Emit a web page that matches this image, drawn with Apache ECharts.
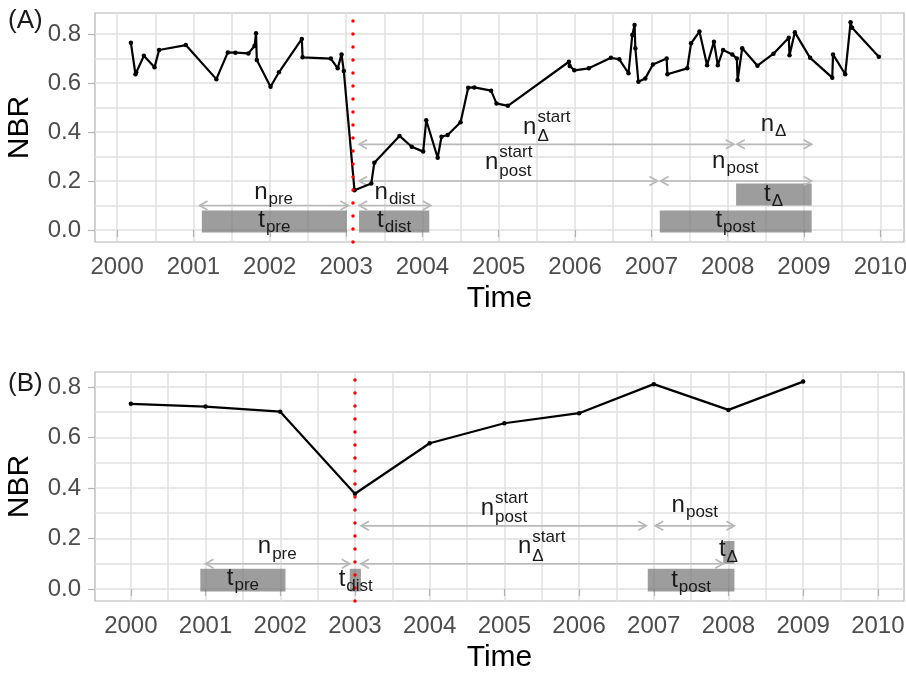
<!DOCTYPE html>
<html><head><meta charset="utf-8">
<script src="https://cdn.jsdelivr.net/npm/echarts@6/dist/echarts.min.js"></script>
<style>html,body{margin:0;padding:0;background:#fff}#c{width:906px;height:676px}</style>
</head><body><div id="c"></div>
<script>
const FONT = '"Liberation Sans", Arial, sans-serif';
const yearTicks = [2000,2001,2002,2003,2004,2005,2006,2007,2008,2009,2010];
const halfYearTicks = [2000.5,2001.5,2002.5,2003.5,2004.5,2005.5,2006.5,2007.5,2008.5,2009.5];
const nbrTicks = [0,0.2,0.4,0.6,0.8];
const nbrMinorTicks = [0.1,0.3,0.5,0.7];

// Panel A: dense time series
const timeA = [2000.18,2000.24,2000.25,2000.35,2000.49,2000.55,2000.90,2001.30,2001.45,2001.55,2001.72,2001.80,2001.82,2001.83,2002.01,2002.12,2002.42,2002.43,2002.80,2002.89,2002.94,2002.97,2003.11,2003.33,2003.37,2003.70,2003.86,2004.01,2004.05,2004.20,2004.25,2004.33,2004.50,2004.60,2004.68,2004.90,2004.97,2005.12,2005.92,2005.93,2005.99,2006.18,2006.47,2006.58,2006.70,2006.75,2006.78,2006.79,2006.83,2006.92,2007.02,2007.20,2007.21,2007.47,2007.52,2007.63,2007.73,2007.82,2007.87,2007.94,2008.06,2008.12,2008.13,2008.19,2008.39,2008.60,2008.80,2008.81,2008.88,2009.08,2009.37,2009.38,2009.54,2009.61,2009.63,2009.98];
const nbrA = [0.765,0.636,0.644,0.711,0.664,0.735,0.755,0.616,0.725,0.724,0.721,0.751,0.803,0.694,0.585,0.644,0.780,0.705,0.700,0.660,0.717,0.649,0.162,0.190,0.275,0.384,0.340,0.320,0.448,0.295,0.381,0.388,0.440,0.581,0.582,0.569,0.517,0.507,0.687,0.670,0.652,0.660,0.703,0.697,0.640,0.796,0.837,0.742,0.605,0.619,0.676,0.700,0.636,0.660,0.762,0.810,0.673,0.769,0.673,0.735,0.717,0.700,0.612,0.742,0.671,0.720,0.785,0.714,0.807,0.703,0.622,0.717,0.636,0.848,0.826,0.707];
// Panel B: annual series
const timeB = [2000,2001,2002,2003,2004,2005,2006,2007,2008,2009];
const nbrB = [0.733,0.722,0.702,0.377,0.577,0.656,0.696,0.811,0.709,0.821];

const disturbA = 2003.09;
const disturbB = 2003.0;

// segments: [xStart, xEnd, yLow, yHigh]
const barsA = [[2001.11,2003.01,-0.01,0.08],[2003.17,2004.09,-0.01,0.08],[2007.11,2009.1,-0.01,0.08],[2008.11,2009.1,0.10,0.19]];
const barsB = [[2000.93,2002.07,-0.01,0.08],[2002.93,2003.08,-0.01,0.08],[2006.92,2008.08,-0.01,0.08],[2007.93,2008.08,0.10,0.19]];
// arrows: [xStart, xEnd, y]
const arrowsA = [[2001.08,2003.03,0.1],[2003.17,2004.11,0.1],[2003.17,2008.08,0.35],[2008.12,2009.1,0.35],[2003.17,2007.08,0.2],[2007.12,2009.1,0.2]];
const arrowsB = [[2001.0,2002.93,0.1],[2003.08,2007.93,0.1],[2003.08,2006.9,0.25],[2007.02,2008.08,0.25]];
// labels: [x, y, main, subscript, superscript]
const labelsA = [
  [2002.06,0.04,'t','pre',''],[2003.63,0.04,'t','dist',''],[2008.1,0.04,'t','post',''],[2008.6,0.145,'t','\u0394',''],
  [2002.05,0.155,'n','pre',''],[2003.64,0.155,'n','dist',''],[2005.63,0.42,'n','\u0394','start'],[2008.6,0.43,'n','\u0394',''],
  [2005.13,0.275,'n','post','start'],[2008.1,0.28,'n','post','']
];
const labelsB = [
  [2001.5,0.044,'t','pre',''],[2003.01,0.04,'t','dist',''],[2007.5,0.036,'t','post',''],[2008.0,0.155,'t','\u0394',''],
  [2001.96,0.167,'n','pre',''],[2005.0,0.32,'n','post','start'],[2007.55,0.333,'n','post',''],[2005.5,0.167,'n','\u0394','start']
];

const mctx = document.createElement('canvas').getContext('2d');
function tw(s, size){ mctx.font = size + 'px "Liberation Sans"'; return mctx.measureText(s).width; }

function barItem(bars){ return function(params, api){
  const b = bars[params.dataIndex];
  const p0 = api.coord([b[0], b[3]]), p1 = api.coord([b[1], b[2]]);
  return {type:'rect', shape:{x:p0[0], y:p0[1], width:p1[0]-p0[0], height:p1[1]-p0[1]}, style:{fill:'rgba(110,110,110,0.68)'}};
};}
function arrowItem(arrows){ return function(params, api){
  const a = arrows[params.dataIndex];
  const p0 = api.coord([a[0], a[2]]), p1 = api.coord([a[1], a[2]]);
  const L = 8, W = 4.5;
  const st = {stroke:'#b8b8b8', lineWidth:1.7, fill:null};
  return {type:'group', children:[
    {type:'line', shape:{x1:p0[0],y1:p0[1],x2:p1[0],y2:p1[1]}, style:st},
    {type:'polyline', shape:{points:[[p0[0]+L,p0[1]-W],[p0[0],p0[1]],[p0[0]+L,p0[1]+W]]}, style:st},
    {type:'polyline', shape:{points:[[p1[0]-L,p1[1]-W],[p1[0],p1[1]],[p1[0]-L,p1[1]+W]]}, style:st}
  ]};
};}
function labelItem(labels){ return function(params, api){
  const l = labels[params.dataIndex];
  const c = api.coord([l[0], l[1]]);
  const M = 24, S = 17;
  const wm = tw(l[2], M), ws = l[3] ? tw(l[3], S) : 0, wp = l[4] ? tw(l[4], S) : 0;
  const total = wm + 1 + Math.max(ws, wp);
  const x0 = c[0] - total / 2;
  const ts = (txt, size) => ({text:txt, fontSize:size, fontFamily:FONT, fill:'#1a1a1a', align:'left', verticalAlign:'middle'});
  const children = [{type:'text', x:x0, y:c[1], style:ts(l[2], M)}];
  if (l[3]) children.push({type:'text', x:x0+wm+1, y:c[1] + (l[4] ? 9 : 7), style:ts(l[3], S)});
  if (l[4]) children.push({type:'text', x:x0+wm+1, y:c[1] - 10, style:ts(l[4], S)});
  return {type:'group', children};
};}

const gridStyle = {color:'#e0e0e0', width:1.5};
function xMajor(g, min, max, nameGap){ return {type:'value', gridIndex:g, min, max, position:'bottom',
  name:'Time', nameLocation:'middle', nameGap, nameTextStyle:{fontSize:30, color:'#000', fontFamily:FONT},
  axisLine:{show:false}, axisTick:{show:true, length:7, customValues:yearTicks, lineStyle:{color:'#b3b3b3', width:1.2}},
  axisLabel:{customValues:yearTicks, formatter:v=>String(Math.round(v)), fontSize:24, color:'#4d4d4d', fontFamily:FONT, margin:13},
  splitLine:{show:true, lineStyle:gridStyle}}; }
function xMinor(g, min, max){ return {type:'value', gridIndex:g, min, max, position:'bottom',
  axisLine:{show:false}, axisTick:{show:false, customValues:halfYearTicks}, axisLabel:{show:false},
  splitLine:{show:true, lineStyle:gridStyle}}; }
function yMajor(g, min, max){ return {type:'value', gridIndex:g, min, max,
  name:'NBR', nameLocation:'middle', nameGap:60, nameTextStyle:{fontSize:30, color:'#000', fontFamily:FONT},
  axisLine:{show:false}, axisTick:{show:true, length:7, customValues:nbrTicks, lineStyle:{color:'#b3b3b3', width:1.2}},
  axisLabel:{customValues:nbrTicks, formatter:v=>v.toFixed(1), fontSize:24, color:'#4d4d4d', fontFamily:FONT, margin:14},
  splitLine:{show:true, lineStyle:gridStyle}}; }
function yMinor(g, min, max){ return {type:'value', gridIndex:g, min, max, position:'left',
  axisLine:{show:false}, axisTick:{show:false, customValues:nbrMinorTicks}, axisLabel:{show:false},
  splitLine:{show:true, lineStyle:gridStyle}}; }

function panelSeries(xi, yi, times, vals, bars, arrows, labels, vline){
  return [
    {type:'custom', xAxisIndex:xi, yAxisIndex:yi, renderItem:barItem(bars), data:bars.map(b=>[b[0],b[2]]), z:2, silent:true},
    {type:'custom', xAxisIndex:xi, yAxisIndex:yi, renderItem:arrowItem(arrows), data:arrows.map(a=>[a[0],a[2]]), z:3, silent:true},
    {type:'line', xAxisIndex:xi, yAxisIndex:yi, data:times.map((t,i)=>[t, vals[i]]), z:4,
      lineStyle:{color:'#000', width:2.2}, itemStyle:{color:'#000'}, symbol:'circle', symbolSize:4.5, showSymbol:true, showAllSymbol:true},
    {type:'custom', xAxisIndex:xi, yAxisIndex:yi, renderItem:labelItem(labels), data:labels.map(l=>[l[0],l[1]]), z:5, silent:true},
    {type:'line', xAxisIndex:xi, yAxisIndex:yi, data:[], z:10,
      markLine:{silent:true, symbol:['none','none'], label:{show:false},
        lineStyle:{color:'#ff0000', width:3.5, type:[0.1,12.9], cap:'round', opacity:1},
        data:[{xAxis:vline}]}}
  ];
}

const chart = echarts.init(document.getElementById('c'), null, {renderer:'canvas'});
chart.setOption({
  animation:false,
  backgroundColor:'#fff',
  grid:[
    {left:95, right:2, top:13, height:229, show:true, borderColor:'#b3b3b3', borderWidth:1.2, outerBoundsMode:'none'},
    {left:95, right:2, top:372, height:229, show:true, borderColor:'#b3b3b3', borderWidth:1.2, outerBoundsMode:'none'}
  ],
  xAxis:[xMajor(0,1999.71,2010.31,42), xMinor(0,1999.71,2010.31), xMajor(1,1999.52,2010.35,42), xMinor(1,1999.52,2010.35)],
  yAxis:[yMajor(0,-0.049,0.886), yMinor(0,-0.049,0.886), yMajor(1,-0.0475,0.859), yMinor(1,-0.0475,0.859)],
  graphic:[
    {type:'text', left:8, top:8, style:{text:'(A)', fontSize:26, fontFamily:FONT, fill:'#1a1a1a'}},
    {type:'text', left:8, top:371, style:{text:'(B)', fontSize:26, fontFamily:FONT, fill:'#1a1a1a'}}
  ],
  series:[].concat(
    panelSeries(0,0,timeA,nbrA,barsA,arrowsA,labelsA,disturbA),
    panelSeries(2,2,timeB,nbrB,barsB,arrowsB,labelsB,disturbB)
  )
});
</script>
</body></html>
